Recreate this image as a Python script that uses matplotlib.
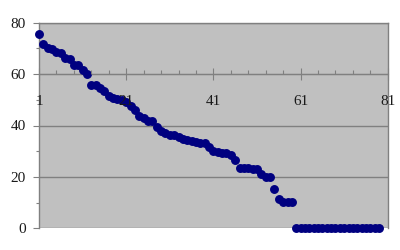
import matplotlib
matplotlib.use("Agg")
import matplotlib.pyplot as plt
from matplotlib.ticker import FixedLocator

values = [75.5, 71.6, 70.3, 69.9, 68.6, 68.1, 66.4, 65.9, 63.4, 63.4,
          61.6, 60.0, 55.9, 55.9, 54.7, 53.4, 51.6, 50.8, 50.3, 49.9,
          49.3, 47.6, 45.9, 43.7, 43.0, 41.9, 41.9, 39.5, 37.9, 37.0,
          36.4, 36.2, 35.4, 34.7, 34.4, 34.1, 33.6, 33.3, 33.0, 31.8,
          30.1, 29.8, 29.2, 29.2, 28.5, 26.6, 23.6, 23.6, 23.5, 23.2,
          23.0, 21.0, 20.1, 19.8, 15.2, 11.5, 10.2, 10.2, 10.2,
          0, 0, 0, 0, 0, 0, 0, 0, 0, 0,
          0, 0, 0, 0, 0, 0, 0, 0, 0, 0]
categories = list(range(1, len(values) + 1))
x_ticks = [1, 21, 41, 61, 81]
y_ticks = [0, 20, 40, 60, 80]

plt.rcParams['font.family'] = ['Liberation Serif', 'DejaVu Serif']

fig = plt.figure(figsize=(4, 2.5), dpi=100)
ax = fig.add_axes([0.0975, 0.087, 0.872, 0.822])
ax.set_facecolor('#C0C0C0')

ax.set_xlim(1, 81)
ax.set_ylim(0, 80)

for y in y_ticks:
    ax.axhline(y, color='#808080', lw=1.0, zorder=1)

ax.plot(categories, values, linestyle='none', marker='o', markersize=5.4,
        color='#000080', zorder=3, clip_on=False)

# x axis crossing at 60
ax.spines['bottom'].set_position(('data', 60))
ax.spines['bottom'].set_color('#808080')
ax.spines['bottom'].set_zorder(2)
for s in ['left', 'right', 'top']:
    ax.spines[s].set_color('#808080')
    ax.spines[s].set_linewidth(1.0)

ax.xaxis.set_major_locator(FixedLocator(x_ticks))
ax.xaxis.set_minor_locator(FixedLocator([v for v in range(1, 82, 4) if v not in x_ticks]))
ax.set_xticklabels([str(v) for v in x_ticks])
ax.tick_params(axis='x', which='major', direction='inout', length=8.5, width=0.8,
               color='#808080', pad=11, labelsize=11, labelcolor='#1a1a1a')
ax.tick_params(axis='x', which='minor', direction='in', length=3, width=0.8,
               color='#808080')
ax.xaxis.set_zorder(5)

ax.yaxis.set_major_locator(FixedLocator(y_ticks))
ax.yaxis.set_minor_locator(FixedLocator([10, 30, 50, 70]))
ax.set_yticklabels([str(v) for v in y_ticks])
ax.tick_params(axis='y', which='major', direction='out', length=4.3, width=0.8,
               color='#808080', pad=5, labelsize=11, labelcolor='#1a1a1a')
ax.tick_params(axis='y', which='minor', direction='out', length=2, width=0.8,
               color='#808080')

fig.savefig('out.png', dpi=100, facecolor='white')
